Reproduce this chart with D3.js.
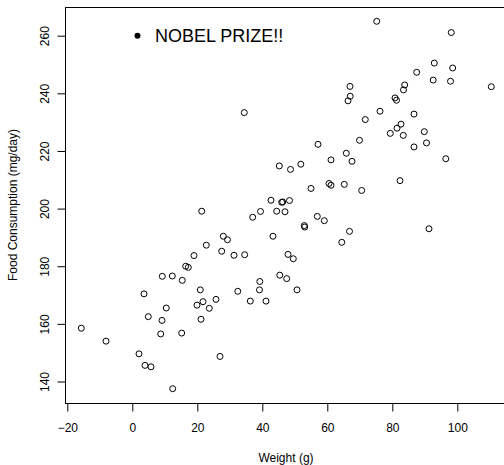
<!DOCTYPE html>
<html>
<head>
<meta charset="utf-8">
<script src="https://cdn.jsdelivr.net/npm/d3@7"></script>
<style>
  html, body { margin: 0; padding: 0; background: #fff; }
  svg { display: block; }
  text { font-family: "Liberation Sans", Arial, Helvetica, sans-serif; fill: #000; }
</style>
</head>
<body>
<svg id="chart" width="504" height="465"></svg>
<script>
// ---- data ----
const weight = [21.35, 22.77, 18.98, 16.43, 17.23, 9.23, 12.31, 15.38, 20.92, 3.6,
  21.75, 19.91, 23.69, 25.75, 10.46, 4.92, 9.14, 21.14, -15.69, 8.74,
  15.2, -8.09, 2.06, 3.91, 5.75, 12.43, 26.98, 27.51, 28.0, 29.29,
  31.29, 34.58, 32.46, 36.31, 37.05, 39.45, 39.23, 39.14, 34.46, 66.37,
  67.05, 66.98, 69.91, 57.14, 65.85, 61.14, 67.6, 45.23, 48.68, 51.85,
  54.98, 60.52, 61.14, 65.23, 70.58, 42.68, 45.97, 46.28, 48.37, 44.43,
  46.98, 52.92, 53.05, 56.92, 59.08, 66.83, 64.46, 43.29, 47.91, 49.54,
  45.38, 47.51, 50.68, 41.14, 91.29, 75.2, 98.15, 92.92, 87.51, 98.58,
  92.58, 97.91, 110.46, 83.82, 83.45, 80.83, 81.29, 76.22, 71.69, 86.68,
  82.68, 81.45, 79.38, 83.38, 89.85, 90.52, 86.68, 96.46, 82.37];
const food = [199.1, 187.3, 183.7, 180.0, 179.6, 176.5, 176.6, 175.1, 171.8, 170.4,
  167.7, 166.5, 165.4, 168.5, 165.5, 162.5, 161.2, 161.6, 158.5, 156.5,
  156.8, 154.0, 149.6, 145.6, 145.1, 137.5, 148.7, 185.2, 190.4, 189.2,
  183.8, 184.0, 171.3, 167.9, 197.0, 199.0, 174.7, 171.8, 233.3, 237.4,
  239.0, 242.4, 223.7, 222.3, 219.2, 216.9, 216.4, 214.8, 213.6, 215.4,
  207.0, 208.7, 208.1, 208.4, 206.3, 202.9, 202.2, 202.3, 202.8, 199.1,
  198.9, 194.1, 193.6, 197.3, 195.8, 192.1, 188.3, 190.4, 184.1, 182.6,
  176.9, 175.7, 171.8, 167.9, 193.0, 265.0, 261.1, 250.5, 247.3, 248.8,
  244.6, 244.2, 242.3, 242.9, 241.2, 238.4, 237.6, 233.8, 230.9, 232.8,
  229.3, 227.9, 226.1, 225.4, 226.7, 222.8, 221.4, 217.3, 209.7];
const nobelWeight = [1.6];
const nobelFood = [260];
const nobelLabel = "NOBEL PRIZE!!";
const xTicks = [-20, 0, 20, 40, 60, 80, 100];
const yTicks = [140, 160, 180, 200, 220, 240, 260];
const xTitle = "Weight (g)";
const yTitle = "Food Consumption (mg/day)";

// ---- layout ----
const svg = d3.select("#chart");
const plot = { left: 65, top: 7, right: 507, bottom: 403 };
const x = d3.scaleLinear().domain([-20, 100]).range([67.3, 457.3]);
const y = d3.scaleLinear().domain([140, 260]).range([381.5, 35.7]);

// box
svg.append("rect")
  .attr("x", plot.left + 0.5).attr("y", plot.top + 0.5)
  .attr("width", plot.right - plot.left).attr("height", plot.bottom - plot.top)
  .attr("fill", "none").attr("stroke", "#000").attr("stroke-width", 1);

// x axis
const gx = svg.append("g")
  .attr("transform", `translate(0,${plot.bottom + 0.5})`)
  .call(d3.axisBottom(x).tickValues(xTicks).tickSize(8).tickPadding(12)
    .tickFormat(d => d < 0 ? "\u2212" + Math.abs(d) : d));
gx.select(".domain").remove();
gx.selectAll(".tick line").attr("stroke", "#000");
gx.selectAll(".tick text").attr("font-size", 12).attr("font-family", null);

// y axis
const gy = svg.append("g")
  .attr("transform", `translate(${plot.left + 0.5},0)`)
  .call(d3.axisLeft(y).tickValues(yTicks).tickSize(8));
gy.select(".domain").remove();
gy.selectAll(".tick line").attr("stroke", "#000");
gy.selectAll(".tick text")
  .attr("font-size", 12).attr("font-family", null)
  .attr("x", null).attr("dy", null)
  .attr("text-anchor", "middle")
  .attr("transform", "translate(-17,0) rotate(-90)");

// titles
svg.append("text")
  .attr("x", (plot.left + plot.right) / 2).attr("y", 462)
  .attr("text-anchor", "middle").attr("font-size", 12)
  .text(xTitle);
svg.append("text")
  .attr("transform", `translate(16.5,${(plot.top + plot.bottom) / 2}) rotate(-90)`)
  .attr("text-anchor", "middle").attr("font-size", 12)
  .text(yTitle);

// points
const pts = weight.map((w, i) => ({ w, f: food[i] }));
svg.append("g").selectAll("circle")
  .data(pts).join("circle")
  .attr("cx", d => x(d.w)).attr("cy", d => y(d.f))
  .attr("r", 3)
  .attr("fill", "none").attr("stroke", "#000").attr("stroke-width", 1);

// nobel point + label
const nobel = nobelWeight.map((w, i) => ({ w, f: nobelFood[i] }));
svg.append("g").selectAll("circle")
  .data(nobel).join("circle")
  .attr("cx", d => x(d.w)).attr("cy", d => y(d.f))
  .attr("r", 3)
  .attr("fill", "#000");
svg.append("g").selectAll("text")
  .data(nobel).join("text")
  .attr("x", d => x(d.w) + 17.5).attr("y", d => y(d.f) + 6.5)
  .attr("font-size", 18)
  .text(nobelLabel);
</script>
</body>
</html>
